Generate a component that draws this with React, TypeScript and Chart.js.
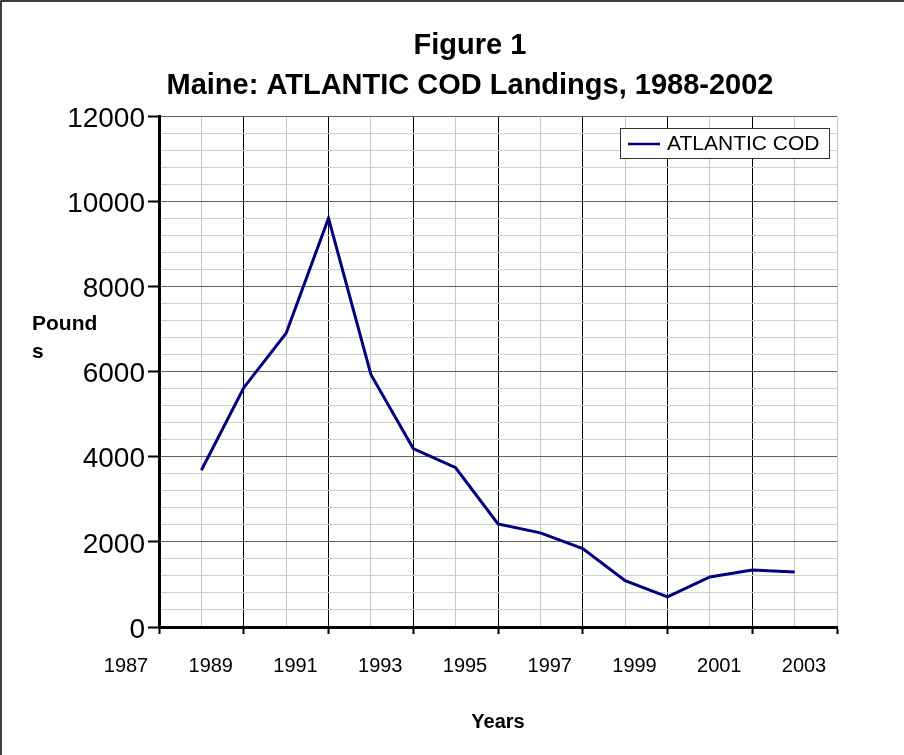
import React, { useEffect, useRef } from "react";
import { Chart, registerables } from "chart.js";

Chart.register(...registerables);

const years = [1988, 1989, 1990, 1991, 1992, 1993, 1994, 1995, 1996, 1997, 1998, 1999, 2000, 2001, 2002];
const landings = [3680, 5620, 6900, 9600, 5930, 4190, 3740, 2420, 2210, 1840, 1090, 706, 1176, 1340, 1294];
const seriesLabel = "ATLANTIC COD";
const titleLines = ["Figure 1", "Maine: ATLANTIC COD Landings, 1988-2002"];
const yTitleLines = ["Pound", "s"];
const xTitle = "Years";

const FONT = "'Liberation Sans', Arial, Helvetica, sans-serif";

const extrasPlugin = {
  id: "extras",
  afterDraw(chart: any) {
    const ctx = chart.ctx;
    ctx.save();
    // outer frame (left & top visible)
    ctx.strokeStyle = "#000";
    ctx.lineWidth = 1.5;
    ctx.beginPath();
    ctx.moveTo(1, 755);
    ctx.lineTo(1, 1);
    ctx.lineTo(904, 1);
    ctx.stroke();

    // y axis title (horizontal, wrapped)
    ctx.fillStyle = "#000";
    ctx.font = `bold 21px ${FONT}`;
    ctx.textAlign = "left";
    ctx.textBaseline = "middle";
    yTitleLines.forEach((t, i) => ctx.fillText(t, 32, 324 + i * 28));

    // legend box inside plot area
    const ds = chart.data.datasets[0];
    const x0 = 620, y0 = 128, w = 209, h = 30;
    ctx.fillStyle = "#fff";
    ctx.fillRect(x0, y0, w, h);
    ctx.strokeStyle = "#333";
    ctx.lineWidth = 1;
    ctx.strokeRect(x0 + 0.5, y0 + 0.5, w, h);
    ctx.strokeStyle = ds.borderColor;
    ctx.lineWidth = 2.5;
    ctx.beginPath();
    ctx.moveTo(628, 144);
    ctx.lineTo(660, 144);
    ctx.stroke();
    ctx.fillStyle = "#000";
    ctx.font = `21px ${FONT}`;
    ctx.textBaseline = "middle";
    ctx.fillText(ds.label, 667, 144);
    ctx.restore();
  },
};

export default function App() {
  const ref = useRef<HTMLCanvasElement>(null);
  useEffect(() => {
    if (!ref.current) return;
    Chart.defaults.font.family = FONT;
    Chart.defaults.color = "#000";
    const chart = new Chart(ref.current, {
      type: "line",
      data: {
        datasets: [
          {
            label: seriesLabel,
            data: years.map((x, i) => ({ x, y: landings[i] })),
            borderColor: "#000080",
            backgroundColor: "#000080",
            borderWidth: 3,
            pointRadius: 0,
            tension: 0,
          },
        ],
      },
      options: {
        responsive: false,
        animation: false,
        layout: { padding: { left: 36, top: 0, right: 0, bottom: 0 } },
        plugins: {
          legend: { display: false },
          tooltip: { enabled: false },
          title: {
            display: true,
            text: titleLines,
            color: "#000",
            font: { size: 29, weight: "bold", lineHeight: 1.38 },
            padding: { top: 26, bottom: 10 },
          },
        },
        scales: {
          x: {
            type: "linear",
            min: 1987,
            max: 2003,
            afterFit: (s: any) => {
              s.height = 128;
            },
            ticks: {
              stepSize: 1,
              autoSkip: false,
              maxRotation: 0,
              labelOffset: -33,
              padding: 20,
              font: { size: 20 },
              color: "#000",
              callback: (v: any) => (Number(v) % 2 === 1 ? String(v) : ""),
            },
            grid: {
              color: (c: any) =>
                c.tick && c.tick.value % 2 === 1 && c.tick.value !== 2003 ? "#000" : "#c8c8c8",
              lineWidth: 1,
              tickLength: 7,
              tickWidth: 2,
              tickColor: (c: any) => (c.tick && c.tick.value % 2 === 1 ? "#000" : "rgba(0,0,0,0)"),
            },
            border: { color: "#000", width: 3 },
            title: {
              display: true,
              text: xTitle,
              color: "#000",
              font: { size: 20, weight: "bold", lineHeight: 1.2 },
              padding: { top: 0, bottom: 21 },
            },
          },
          y: {
            min: 0,
            max: 12000,
            afterFit: (s: any) => {
              s.width = 123;
            },
            ticks: {
              stepSize: 400,
              autoSkip: false,
              padding: 3,
              labelOffset: 3,
              font: { size: 28 },
              color: "#000",
              callback: (v: any) => (Number(v) % 2000 === 0 ? String(v) : ""),
            },
            grid: {
              color: (c: any) => (c.tick && c.tick.value % 2000 === 0 ? "#606060" : "#d0d0d0"),
              lineWidth: 1,
              tickLength: 11,
              tickWidth: 2,
              tickColor: (c: any) => (c.tick && c.tick.value % 2000 === 0 ? "#000" : "rgba(0,0,0,0)"),
            },
            border: { color: "#000", width: 3 },
          },
          yRight: {
            position: "right",
            display: true,
            min: 0,
            max: 12000,
            afterFit: (s: any) => {
              s.width = 67;
            },
            ticks: { display: false },
            grid: { display: false, drawOnChartArea: false },
            border: { display: false },
          },
        },
      },
      plugins: [extrasPlugin],
    });
    return () => chart.destroy();
  }, []);
  return (
    <div style={{ position: "absolute", left: 0, top: 0, width: 904, height: 755, background: "#fff" }}>
      <canvas ref={ref} width={904} height={755} style={{ display: "block" }} />
    </div>
  );
}
